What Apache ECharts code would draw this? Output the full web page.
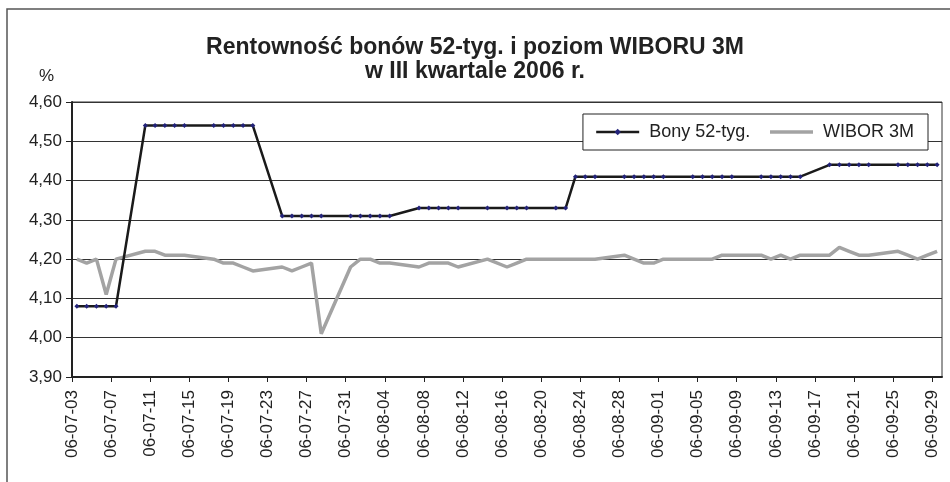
<!DOCTYPE html>
<html>
<head>
<meta charset="utf-8">
<title>Rentowność bonów 52-tyg. i poziom WIBORU 3M</title>
<script src="https://cdn.jsdelivr.net/npm/echarts@6/dist/echarts.min.js"></script>
<style>
  html, body { margin: 0; padding: 0; background: #fff; }
  #chart { width: 950px; height: 482px; }
</style>
</head>
<body>
<div id="chart"></div>
<script>
// dni notowań (rok 2006), 15 sierpnia - święto, brak notowania
const year = '2006'
const startDate = '2006-07-03'
const dates = [
  '07-03', '07-04', '07-05', '07-06', '07-07',
  '07-10', '07-11', '07-12', '07-13', '07-14',
  '07-17', '07-18', '07-19', '07-20', '07-21',
  '07-24', '07-25', '07-26', '07-27', '07-28',
  '07-31', '08-01', '08-02', '08-03', '08-04',
  '08-07', '08-08', '08-09', '08-10', '08-11',
  '08-14', '08-16', '08-17', '08-18',
  '08-21', '08-22', '08-23', '08-24', '08-25',
  '08-28', '08-29', '08-30', '08-31', '09-01',
  '09-04', '09-05', '09-06', '09-07', '09-08',
  '09-11', '09-12', '09-13', '09-14', '09-15',
  '09-18', '09-19', '09-20', '09-21', '09-22',
  '09-25', '09-26', '09-27', '09-28', '09-29'
]
// rentowność bonów 52-tyg.
const bony = [
  4.08, 4.08, 4.08, 4.08, 4.08,
  4.54, 4.54, 4.54, 4.54, 4.54,
  4.54, 4.54, 4.54, 4.54, 4.54,
  4.31, 4.31, 4.31, 4.31, 4.31,
  4.31, 4.31, 4.31, 4.31, 4.31,
  4.33, 4.33, 4.33, 4.33, 4.33,
  4.33, 4.33, 4.33, 4.33,
  4.33, 4.33, 4.41, 4.41, 4.41,
  4.41, 4.41, 4.41, 4.41, 4.41,
  4.41, 4.41, 4.41, 4.41, 4.41,
  4.41, 4.41, 4.41, 4.41, 4.41,
  4.44, 4.44, 4.44, 4.44, 4.44,
  4.44, 4.44, 4.44, 4.44, 4.44
]
// WIBOR 3M
const wibor = [
  4.20, 4.19, 4.20, 4.11, 4.20,
  4.22, 4.22, 4.21, 4.21, 4.21,
  4.20, 4.19, 4.19, 4.18, 4.17,
  4.18, 4.17, 4.18, 4.19, 4.01,
  4.18, 4.20, 4.20, 4.19, 4.19,
  4.18, 4.19, 4.19, 4.19, 4.18,
  4.20, 4.18, 4.19, 4.20,
  4.20, 4.20, 4.20, 4.20, 4.20,
  4.21, 4.20, 4.19, 4.19, 4.20,
  4.20, 4.20, 4.20, 4.21, 4.21,
  4.21, 4.20, 4.21, 4.20, 4.21,
  4.21, 4.23, 4.22, 4.21, 4.21,
  4.22, 4.21, 4.20, 4.21, 4.22
]
// etykiety osi X (co 4 dni)
const tickLabels = [
  '06-07-03', '06-07-07', '06-07-11', '06-07-15', '06-07-19', '06-07-23',
  '06-07-27', '06-07-31', '06-08-04', '06-08-08', '06-08-12', '06-08-16',
  '06-08-20', '06-08-24', '06-08-28', '06-09-01', '06-09-05', '06-09-09',
  '06-09-13', '06-09-17', '06-09-21', '06-09-25', '06-09-29'
]

const DAY = 86400000
// pozycja punktu = środek dnia na osi dat
function dayX(d) {
  return (Date.parse(year + '-' + d) - Date.parse(startDate)) / DAY + 0.5
}

const chart = echarts.init(document.getElementById('chart'))

const option = {
  animation: false,
  backgroundColor: '#fff',
  textStyle: { fontFamily: 'Liberation Sans', color: '#222' },
  title: {
    text: 'Rentowność bonów 52-tyg. i poziom WIBORU 3M\nw III kwartale 2006 r.',
    left: 'center',
    top: 31,
    textStyle: {
      fontFamily: 'Liberation Sans',
      fontSize: 23,
      fontWeight: 'bold',
      lineHeight: 24,
      color: '#222'
    }
  },
  legend: {
    right: 22,
    top: 114,
    padding: [9, 14, 9, 12],
    itemWidth: 43,
    itemHeight: 8,
    itemGap: 18,
    backgroundColor: '#fff',
    borderColor: '#222',
    borderWidth: 1,
    lineStyle: { width: 'inherit' },
    textStyle: {
      fontFamily: 'Liberation Sans',
      fontSize: 18,
      color: '#222',
      padding: [0, 0, 0, 5]
    },
    data: [
      { name: 'Bony 52-tyg.' },
      { name: 'WIBOR 3M', itemStyle: { opacity: 0 } }
    ]
  },
  graphic: [
    {
      type: 'rect',
      shape: { x: 7, y: 9, width: 1000, height: 1000 },
      style: { fill: 'none', stroke: '#555', lineWidth: 1.5 },
      silent: true
    }
  ],
  grid: {
    left: 72,
    top: 102,
    width: 870,
    height: 275,
    show: true,
    borderColor: '#333',
    borderWidth: 1
  },
  xAxis: {
    type: 'value',
    min: 0,
    max: 89,
    interval: 4,
    axisLine: { lineStyle: { color: '#222', width: 2 } },
    axisTick: { show: true, length: 5, lineStyle: { color: '#222' } },
    splitLine: { show: false },
    axisLabel: {
      rotate: 90,
      margin: 13,
      fontSize: 17,
      color: '#222',
      showMaxLabel: false,
      formatter: v => tickLabels[v / 4] || ''
    }
  },
  yAxis: {
    type: 'value',
    min: 3.9,
    max: 4.6,
    interval: 0.1,
    name: '%',
    nameLocation: 'end',
    nameGap: 17,
    nameTextStyle: { fontSize: 17, color: '#222', align: 'right', padding: [0, 18, 0, 0] },
    axisLine: { show: true, lineStyle: { color: '#222', width: 2 } },
    axisTick: { show: true, length: 6, lineStyle: { color: '#222' } },
    splitLine: { lineStyle: { color: '#333', width: 1 } },
    axisLabel: {
      margin: 10,
      fontSize: 17,
      color: '#222',
      formatter: v => v.toFixed(2).replace('.', ',')
    }
  },
  series: [
    {
      name: 'Bony 52-tyg.',
      type: 'line',
      data: dates.map((d, i) => [dayX(d), bony[i]]),
      symbol: 'diamond',
      symbolSize: 5,
      itemStyle: { color: '#23237a' },
      lineStyle: { color: '#1a1a1a', width: 2.5 },
      z: 3
    },
    {
      name: 'WIBOR 3M',
      type: 'line',
      data: dates.map((d, i) => [dayX(d), wibor[i]]),
      symbol: 'none',
      itemStyle: { color: '#a3a3a3' },
      lineStyle: { color: '#a3a3a3', width: 3.5 },
      z: 2
    }
  ]
}

chart.setOption(option)
</script>
</body>
</html>
